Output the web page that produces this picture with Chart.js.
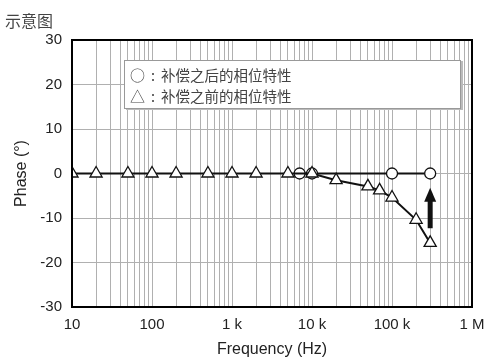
<!DOCTYPE html>
<html>
<head>
<meta charset="utf-8">
<script src="https://cdn.jsdelivr.net/npm/chart.js@4"></script>
<style>
  body { margin: 0; background: #fff; }
  .wrap { position: relative; width: 500px; height: 362px; }
  .title { position: absolute; left: 5px; top: 8px; font: 16px "Noto Sans CJK SC", sans-serif; color: #444; }
  .legend { position: absolute; left: 124px; top: 60px; width: 335px; height: 47px; background: #fff;
    border: 1px solid #999; box-shadow: 2px 1px 0 #bbb; font: 14.5px "Noto Sans CJK SC", sans-serif; color: #444; }
  .legend div { position: absolute; left: 5px; line-height: 20px; }
  .legend span { display: inline-block; width: 15px; font-size: 15px; }
  .legend b { display: inline-block; width: 16px; text-align: center; font-weight: normal; }
</style>
</head>
<body>
<div class="wrap">
  <canvas id="c" width="500" height="362"></canvas>
  <div class="title">示意图</div>
  <div class="legend">
    <div style="top:4px"><span>○</span><b>:</b>补偿之后的相位特性</div>
    <div style="top:25px"><span>△</span><b>:</b>补偿之前的相位特性</div>
  </div>
</div>
<script>
// 보상 전 (삼각형)
const beforeFreq = [10, 20, 50, 100, 200, 500, 1000, 2000, 5000, 10000, 20000, 50000, 70000, 100000, 200000, 300000];
const beforePhase = [0, 0, 0, 0, 0, 0, 0, 0, 0, 0, -1.5, -2.9, -3.8, -5.4, -10.4, -15.6];
// 보상 후 (원)
const afterFreq = [7000, 10000, 100000, 300000];
const afterPhase = [0, 0, 0, 0];
const decadeLabels = { 10: '10', 100: '100', 1000: '1 k', 10000: '10 k', 100000: '100 k', 1000000: '1 M' };
const yTicks = [-30, -20, -10, 0, 10, 20, 30];
// 화살표 (보상 방향)
const arrowFreq = 300000, arrowFrom = -12.3, arrowTo = -3.2;

const toPts = (xs, ys) => xs.map((x, i) => ({ x, y: ys[i] }));

const frame = {
  id: 'frame',
  afterDatasetsDraw(chart) {
    const { ctx, chartArea: a, scales } = chart;
    ctx.save();
    ctx.strokeStyle = '#000';
    ctx.lineWidth = 2;
    ctx.strokeRect(a.left, a.top, a.right - a.left, a.bottom - a.top);
    // arrow
    const x = scales.x.getPixelForValue(arrowFreq);
    const y0 = scales.y.getPixelForValue(arrowFrom);
    const y1 = scales.y.getPixelForValue(arrowTo);
    ctx.fillStyle = '#111';
    ctx.fillRect(x - 2.5, y1 + 12, 5, y0 - y1 - 12);
    ctx.beginPath();
    ctx.moveTo(x, y1);
    ctx.lineTo(x + 6, y1 + 14);
    ctx.lineTo(x - 6, y1 + 14);
    ctx.closePath();
    ctx.fill();
    ctx.restore();
  }
};

new Chart(document.getElementById('c'), {
  type: 'line',
  data: {
    datasets: [
      {
        data: toPts(beforeFreq, beforePhase),
        borderColor: '#111', borderWidth: 2,
        pointStyle: 'triangle', pointRadius: 7,
        pointBackgroundColor: '#fff', pointBorderColor: '#111', pointBorderWidth: 1.3
      },
      {
        data: toPts(afterFreq, afterPhase),
        borderColor: '#111', borderWidth: 2,
        pointStyle: 'circle', pointRadius: 5.5,
        pointBackgroundColor: '#fff', pointBorderColor: '#111', pointBorderWidth: 1.3
      }
    ]
  },
  options: {
    responsive: false,
    animation: false,
    layout: { padding: { top: 40, right: 28, left: 8, bottom: 0 } },
    plugins: { legend: { display: false }, tooltip: { enabled: false } },
    scales: {
      x: {
        type: 'logarithmic', min: 10, max: 1000000,
        afterBuildTicks(s) {
          const t = [];
          for (let e = 1; e < 6; e++) for (let m = 1; m < 10; m++) t.push({ value: m * Math.pow(10, e) });
          t.push({ value: 1000000 });
          s.ticks = t;
        },
        afterFit(s) { s.height = 55; },
        ticks: {
          autoSkip: false, maxRotation: 0, color: '#222', padding: 9,
          font: { family: 'Liberation Sans, Arial', size: 15 },
          callback: v => decadeLabels[v] || ''
        },
        grid: { color: '#b0b0b0', lineWidth: 1, drawTicks: false },
        border: { display: false },
        title: { display: true, text: 'Frequency (Hz)', color: '#222', padding: { top: 0, bottom: 3 },
          font: { family: 'Liberation Sans, Arial', size: 16 } }
      },
      y: {
        min: -30, max: 30,
        afterBuildTicks(s) { s.ticks = yTicks.map(v => ({ value: v })); },
        afterFit(s) { s.width = 64; },
        ticks: { color: '#222', padding: 10, font: { family: 'Liberation Sans, Arial', size: 15 } },
        grid: { color: '#b0b0b0', lineWidth: 1, drawTicks: false },
        border: { display: false },
        title: { display: true, text: 'Phase (°)', color: '#222', padding: { bottom: 2 },
          font: { family: 'Liberation Sans, Arial', size: 16 } }
      }
    }
  },
  plugins: [frame]
});
</script>
</body>
</html>
